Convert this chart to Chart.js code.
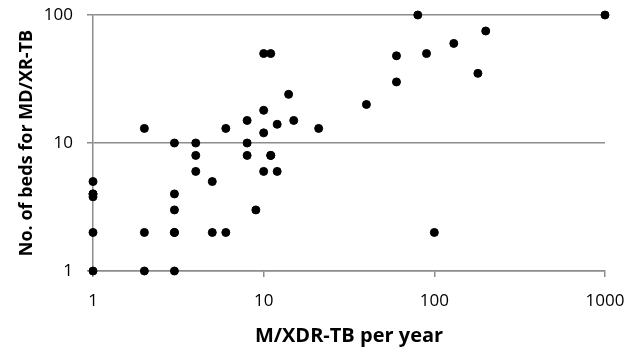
<!DOCTYPE html>
<html>
<head>
<meta charset="utf-8">
<script src="https://cdn.jsdelivr.net/npm/chart.js@4.4.0/dist/chart.umd.min.js"></script>
<style>
  html, body { margin: 0; padding: 0; background: #fff; }
  #wrap { width: 629px; height: 351px; position: relative; }
</style>
</head>
<body>
<div id="wrap"><canvas id="chartBeds"></canvas></div>
<script>
// M/XDR-TB cases per year (x) vs number of beds (y)
const casesPerYear = [
  1, 1, 1, 1, 1, 1,
  2, 2, 2,
  3, 3, 3, 3, 3, 3,
  4, 4, 4,
  5, 5,
  6, 6,
  8, 8, 8,
  9,
  10, 10, 10, 10, 11, 11, 11,
  12, 12, 14, 15, 21,
  40, 60, 60, 80, 90, 100, 130, 180, 200, 1000
];
const bedsCount = [
  1, 2, 3.8, 4, 5, 4,
  1, 2, 13,
  1, 2, 3, 4, 10, 2,
  10, 8, 6,
  5, 2,
  13, 2,
  15, 10, 8,
  3,
  50, 18, 12, 6, 50, 8, 8,
  14, 6, 24, 15, 13,
  20, 48, 30, 100, 50, 2, 60, 35, 75, 100
];
const xTicks = [1, 10, 100, 1000];
const yTicks = [1, 10, 100];

const puntos = [];
for (let i = 0; i < casesPerYear.length; i++) {
  puntos.push({ x: casesPerYear[i], y: bedsCount[i] });
}

const gris = '#8c8c8c';
const fuente = "'Open Sans', sans-serif";

function sinSobrante(axis) {
  axis.paddingTop = 0;
  axis.paddingBottom = 0;
  axis.paddingLeft = 0;
  axis.paddingRight = 0;
}

const config = {
  type: 'scatter',
  data: {
    datasets: [{
      data: puntos,
      backgroundColor: '#000',
      borderColor: '#000',
      pointRadius: 4,
      pointHoverRadius: 4,
      clip: false
    }]
  },
  options: {
    responsive: true,
    maintainAspectRatio: false,
    animation: false,
    layout: { padding: { top: 15, right: 24, left: 0, bottom: 0 } },
    plugins: {
      legend: { display: false },
      tooltip: { enabled: false }
    },
    scales: {
      x: {
        type: 'logarithmic',
        min: 1,
        max: 1000,
        afterBuildTicks: function (axis) {
          axis.ticks = xTicks.map(function (v) { return { value: v }; });
        },
        afterFit: function (axis) { axis.height = 80; sinSobrante(axis); },
        ticks: {
          color: '#000',
          font: { family: fuente, size: 17 },
          padding: 14,
          maxRotation: 0,
          callback: function (v) { return String(v); }
        },
        grid: {
          drawOnChartArea: false,
          drawTicks: true,
          tickLength: 6,
          color: gris,
          lineWidth: 1.5
        },
        border: { color: gris, width: 1.5 },
        title: {
          display: true,
          text: 'M/XDR-TB per year',
          color: '#000',
          font: { family: fuente, size: 20, weight: 'bold' },
          padding: { top: 0, bottom: 3 }
        }
      },
      y: {
        type: 'logarithmic',
        min: 1,
        max: 100,
        afterBuildTicks: function (axis) {
          axis.ticks = yTicks.map(function (v) { return { value: v }; });
        },
        afterFit: function (axis) { axis.width = 93; sinSobrante(axis); },
        ticks: {
          color: '#000',
          font: { family: fuente, size: 17 },
          padding: 14,
          callback: function (v) { return String(v); }
        },
        grid: {
          drawOnChartArea: true,
          drawTicks: true,
          tickLength: 6,
          color: gris,
          lineWidth: 1.5
        },
        border: { color: gris, width: 1.5 },
        title: {
          display: true,
          text: 'No. of beds for MD/XR-TB',
          color: '#000',
          font: { family: fuente, size: 18, weight: 'bold' },
          padding: { top: 16, bottom: 0 }
        }
      }
    }
  }
};

const myChart = new Chart(document.getElementById('chartBeds'), config);
</script>
</body>
</html>
